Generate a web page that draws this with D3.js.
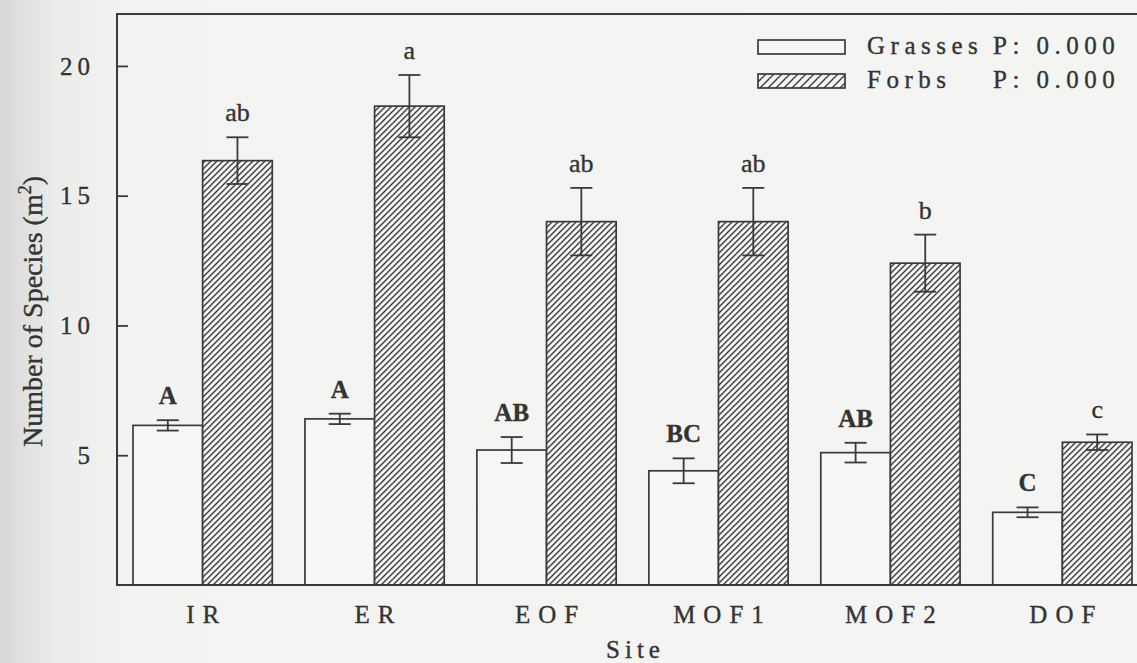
<!DOCTYPE html>
<html>
<head>
<meta charset="utf-8">
<script src="https://cdn.jsdelivr.net/npm/d3@7"></script>
<style>
  html, body { margin: 0; padding: 0; background: #f3f3f2; }
  svg { display: block; }
  text { font-family: "Liberation Serif", "Times New Roman", serif; fill: #333; stroke: #333; stroke-width: 0.35px; }
</style>
</head>
<body>
<div id="chart"></div>
<script>
// --- Grouped bar chart with error bars: species richness per site ---

const sites = ["IR", "ER", "EOF", "MOF1", "MOF2", "DOF"];
const groups = ["Grasses", "Forbs"];

// means and standard errors
const grassMeans = [6.15, 6.4, 5.2, 4.4, 5.1, 2.8];
const grassErrors = [0.2, 0.2, 0.5, 0.48, 0.38, 0.19];
const forbMeans = [16.35, 18.45, 14.0, 14.0, 12.4, 5.5];
const forbErrors = [0.9, 1.2, 1.3, 1.3, 1.1, 0.3];

// significance letters above bars
const grassLetters = ["A", "A", "AB", "BC", "AB", "C"];
const forbLetters = ["ab", "a", "ab", "ab", "b", "c"];

const yTicks = [5, 10, 15, 20];
const legendLabels = ["Grasses", "Forbs"];
const legendP = ["P: 0.000", "P: 0.000"];

(function () {
    const W = 1137, H = 663;
    const left = 117, right = 1148, top = 14, bottom = 585;

    const svg = d3.select("#chart").append("svg")
        .attr("width", W)
        .attr("height", H);

    // scanned-paper look: slightly darker at the left margin
    const defs = svg.append("defs");
    const bg = defs.append("linearGradient").attr("id", "paper")
        .attr("x1", 0).attr("x2", 1).attr("y1", 0).attr("y2", 0);
    bg.append("stop").attr("offset", "0%").attr("stop-color", "#d8d8d8");
    bg.append("stop").attr("offset", "5%").attr("stop-color", "#ececeb");
    bg.append("stop").attr("offset", "12%").attr("stop-color", "#f3f3f2");
    bg.append("stop").attr("offset", "100%").attr("stop-color", "#f4f4f3");
    svg.append("rect").attr("width", W).attr("height", H).attr("fill", "url(#paper)");

    // hatch patterns ("/" direction)
    const hatch = (id, s) => {
        const p = defs.append("pattern").attr("id", id)
            .attr("patternUnits", "userSpaceOnUse")
            .attr("width", s).attr("height", s);
        p.append("rect").attr("width", s).attr("height", s).attr("fill", "#f4f4f3");
        p.append("path")
            .attr("d", `M${-s / 2},${s / 2} L${s / 2},${-s / 2} M0,${s} L${s},0 M${s / 2},${s * 1.5} L${s * 1.5},${s / 2}`)
            .attr("stroke", "#3c3c3c").attr("stroke-width", 1.4);
    };
    hatch("hatch", 6);
    hatch("hatchLegend", 8);

    const x0 = d3.scaleBand().domain(sites).range([left, right])
        .paddingInner(0.19).paddingOuter(0.093);
    const x1 = d3.scaleBand().domain(groups).range([0, x0.bandwidth()]);
    const y = d3.scaleLinear().domain([0, 22]).range([bottom, top]);

    const rows = sites.map((s, i) => [
        { site: s, group: "Grasses", value: grassMeans[i], err: grassErrors[i], letter: grassLetters[i] },
        { site: s, group: "Forbs", value: forbMeans[i], err: forbErrors[i], letter: forbLetters[i] }
    ]).flat();

    const stroke = "#3a3a3a";

    // bars
    svg.append("g").selectAll("rect")
        .data(rows)
        .join("rect")
        .attr("x", d => x0(d.site) + x1(d.group))
        .attr("y", d => y(d.value))
        .attr("width", x1.bandwidth())
        .attr("height", d => y(0) - y(d.value))
        .attr("fill", d => d.group === "Forbs" ? "url(#hatch)" : "#f6f6f5")
        .attr("stroke", stroke)
        .attr("stroke-width", 1.7);

    // error bars
    const cap = 11;
    const eb = svg.append("g").selectAll("g")
        .data(rows)
        .join("g")
        .attr("transform", d => `translate(${x0(d.site) + x1(d.group) + x1.bandwidth() / 2},0)`)
        .attr("stroke", stroke)
        .attr("stroke-width", 1.8);
    eb.append("line")
        .attr("y1", d => y(d.value - d.err)).attr("y2", d => y(d.value + d.err));
    eb.append("line").attr("x1", -cap).attr("x2", cap)
        .attr("y1", d => y(d.value + d.err)).attr("y2", d => y(d.value + d.err));
    eb.append("line").attr("x1", -cap).attr("x2", cap)
        .attr("y1", d => y(d.value - d.err)).attr("y2", d => y(d.value - d.err));

    // letters
    svg.append("g").selectAll("text")
        .data(rows)
        .join("text")
        .attr("x", d => x0(d.site) + x1(d.group) + x1.bandwidth() / 2)
        .attr("y", d => y(d.value + d.err) - 16)
        .attr("text-anchor", "middle")
        .style("font-size", d => d.group === "Grasses" ? "25px" : "26px")
        .style("font-weight", d => d.group === "Grasses" ? "bold" : "normal")
        .text(d => d.letter);

    // frame: left/right axes with inward ticks, top and bottom lines
    const yAxisL = d3.axisRight(y).tickValues(yTicks).tickSize(11).tickFormat("");
    const yAxisR = d3.axisLeft(y).tickValues(yTicks).tickSize(11).tickFormat("");
    svg.append("g").attr("transform", `translate(${left},0)`).call(yAxisL)
        .call(g => g.select(".domain").remove())
        .selectAll("line").attr("stroke", stroke).attr("stroke-width", 1.8);
    svg.append("g").attr("transform", `translate(${right},0)`).call(yAxisR)
        .call(g => g.select(".domain").remove())
        .selectAll("line").attr("stroke", stroke).attr("stroke-width", 1.8);

    svg.append("rect")
        .attr("x", left).attr("y", top)
        .attr("width", right - left).attr("height", bottom - top)
        .attr("fill", "none").attr("stroke", stroke).attr("stroke-width", 2);

    // tick labels
    svg.append("g").selectAll("text")
        .data(yTicks)
        .join("text")
        .attr("x", 95)
        .attr("y", d => y(d))
        .attr("dy", "0.35em")
        .attr("text-anchor", "end")
        .style("font-size", "25px")
        .style("letter-spacing", "5px")
        .text(d => d);

    svg.append("g").selectAll("text")
        .data(sites)
        .join("text")
        .attr("x", d => x0(d) + x0.bandwidth() / 2 + 4)
        .attr("y", 623)
        .attr("text-anchor", "middle")
        .style("font-size", "25px")
        .style("letter-spacing", "8px")
        .text(d => d);

    // axis titles
    svg.append("text")
        .attr("x", (left + right) / 2 + 3)
        .attr("y", 658)
        .attr("text-anchor", "middle")
        .style("font-size", "25px")
        .style("letter-spacing", "5px")
        .text("Site");

    const yt = svg.append("text")
        .attr("transform", `translate(42,${(top + bottom) / 2 + 12}) rotate(-90)`)
        .attr("text-anchor", "middle")
        .style("font-size", "28px");
    yt.append("tspan").text("Number of Species (m");
    yt.append("tspan").attr("dy", -11).style("font-size", "18px").text("2");
    yt.append("tspan").attr("dy", 11).text(")");

    // legend
    const lg = svg.append("g").selectAll("g")
        .data(legendLabels)
        .join("g")
        .attr("transform", (d, i) => `translate(758,${40 + i * 34})`);
    lg.append("rect")
        .attr("width", 87).attr("height", 14)
        .attr("fill", (d, i) => i === 1 ? "url(#hatchLegend)" : "#f6f6f5")
        .attr("stroke", stroke).attr("stroke-width", 1.7);
    lg.append("text")
        .attr("x", 109).attr("y", 14)
        .style("font-size", "25px")
        .style("letter-spacing", "5.5px")
        .text(d => d);
    lg.append("text")
        .attr("x", 235).attr("y", 14)
        .style("font-size", "25px")
        .style("letter-spacing", "5.5px")
        .text((d, i) => legendP[i]);
})();
</script>
</body>
</html>
